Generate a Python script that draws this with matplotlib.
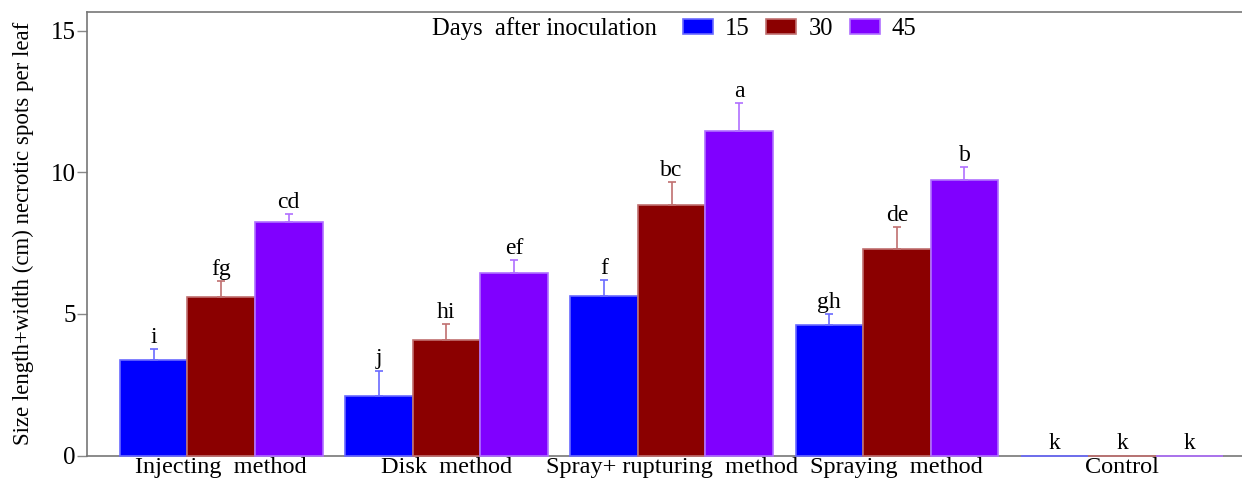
import matplotlib
matplotlib.use('Agg')
import matplotlib.pyplot as plt
import numpy as np

# Datos
metodos = ['Injecting  method', 'Disk  method', 'Spray+ rupturing  method', 'Spraying  method', 'Control']
dias = ['15', '30', '45']
d15 = [3.36, 2.09, 5.62, 4.60, 0.0]
d30 = [5.59, 4.07, 8.85, 7.31, 0.0]
d45 = [8.24, 6.44, 11.46, 9.75, 0.0]
err15 = [0.39, 0.91, 0.57, 0.39, 0.0]
err30 = [0.56, 0.56, 0.82, 0.76, 0.0]
err45 = [0.28, 0.46, 0.98, 0.45, 0.0]
letras15 = ['i', 'j', 'f', 'gh', 'k']
letras30 = ['fg', 'hi', 'bc', 'de', 'k']
letras45 = ['cd', 'ef', 'a', 'b', 'k']

colores = ['#0000ff', '#8b0000', '#8000ff']
bordes = ['#6a6aff', '#c07070', '#b070ff']

plt.rcParams['font.family'] = ['Liberation Serif', 'DejaVu Serif']

fig = plt.figure(figsize=(12.42, 4.78), dpi=100)
ax = fig.add_axes([0.070, 0.047, 0.935, 0.928])

x = np.arange(len(metodos))
ancho = 0.3
series = [(d15, err15, letras15), (d30, err30, letras30), (d45, err45, letras45)]
for i, (vals, errs, letras) in enumerate(series):
    pos = x + (i - 1) * ancho
    ax.bar(pos, vals, ancho, color=colores[i], edgecolor=bordes[i],
           linewidth=1.2, label=dias[i], zorder=3, clip_on=False)
    con_err = [j for j, e in enumerate(errs) if e > 0]
    ax.errorbar(pos[con_err], [vals[j] for j in con_err],
                yerr=[np.zeros(len(con_err)), [errs[j] for j in con_err]], fmt='none',
                ecolor=bordes[i], elinewidth=1.2, capsize=3, capthick=1.2, zorder=4)
    for p, v, e, l in zip(pos, vals, errs, letras):
        ax.text(p, v + e + 0.22, l, ha='center', va='baseline', fontsize=17)

ax.set_xlim(-0.596, 4.56)
ax.set_ylim(0, 15.67)
ax.set_yticks([0, 5, 10, 15])
ax.set_xticks(x)
ax.set_xticklabels(metodos, fontsize=17.5)
ax.tick_params(axis='x', length=0, pad=1)
ax.tick_params(axis='y', length=7, width=1, color='#888888', labelsize=18, pad=1)
ax.set_ylabel('Size length+width (cm) necrotic spots per leaf', fontsize=16.5, labelpad=12)

for s in ['left', 'bottom', 'top']:
    ax.spines[s].set_color('#777777')
    ax.spines[s].set_linewidth(1.2)
    ax.spines[s].set_zorder(2)
ax.spines['right'].set_visible(False)

# Leyenda en la parte superior
ax.text(0.2975, 0.962, 'Days  after inoculation', transform=ax.transAxes,
        fontsize=17.7, ha='left', va='center')
ax.legend(loc='center left', bbox_to_anchor=(0.513, 0.962), ncol=3, frameon=False,
          fontsize=17.7, handlelength=1.22, handleheight=0.57, columnspacing=0.69,
          handletextpad=0.49, borderpad=0, borderaxespad=0)

fig.savefig('out.png', dpi=100)
